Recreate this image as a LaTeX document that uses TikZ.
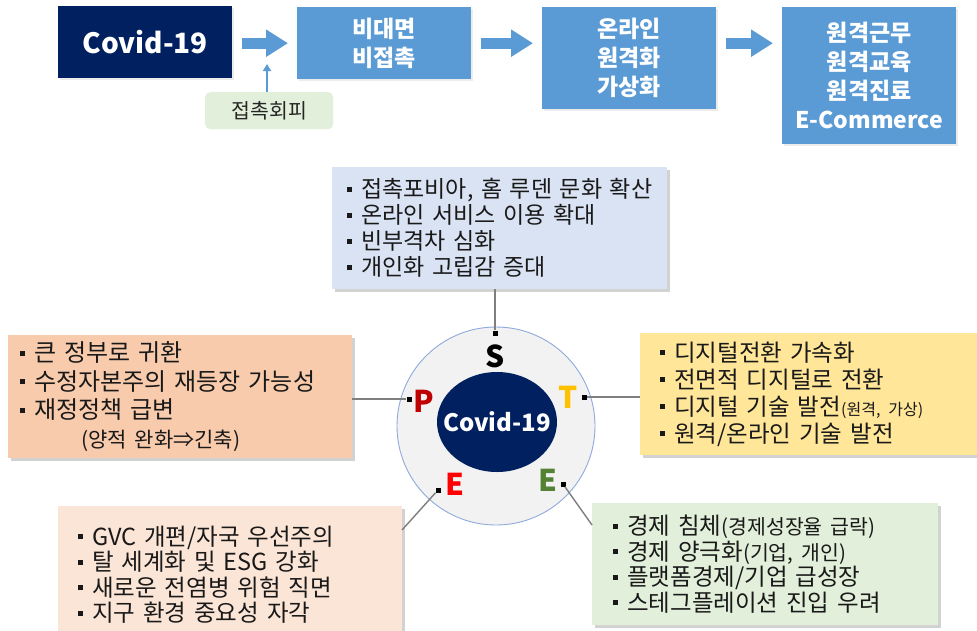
\documentclass[tikz,border=0pt]{standalone}
\usepackage{fontspec}
\setmainfont{Noto Sans CJK KR}
\usetikzlibrary{arrows.meta,shapes.geometric,shadows,calc}
\definecolor{navy}{HTML}{002060}
\definecolor{blueb}{HTML}{5B9BD5}
\definecolor{greenl}{HTML}{E2EFDA}
\definecolor{sblue}{HTML}{DAE3F3}
\definecolor{salmon}{HTML}{F8CBAD}
\definecolor{goldl}{HTML}{FFE699}
\definecolor{peach}{HTML}{FBE5D6}
\definecolor{circf}{HTML}{F2F2F2}
\definecolor{circb}{HTML}{8FAADC}
\definecolor{lgray}{HTML}{7F7F7F}
\definecolor{pred}{HTML}{C00000}
\definecolor{tgold}{HTML}{FFC000}
\definecolor{ered}{HTML}{FF0000}
\definecolor{egreen}{HTML}{548235}
\newcommand{\bul}{\rule[0.25em]{5pt}{5pt}\hspace{9pt}}
\newcommand{\smtxt}[2]{{\fontsize{#1}{#1}\selectfont #2}}
\begin{document}
\begin{tikzpicture}[x=1pt,y=-1pt,
  topbox/.style={anchor=north west, fill=blueb, text=white, align=center, inner sep=0pt,
    font=\bfseries\fontsize{23}{29}\selectfont,
    drop shadow={shadow xshift=1.5pt, shadow yshift=-1.5pt, opacity=0.15}},
  bigarrow/.style={draw=blueb, line width=11pt, -{Triangle[length=22pt,width=26pt]},
    shorten <=10pt, shorten >=9pt},
  thinarrow/.style={draw=blueb, line width=1.8pt, -{Triangle[length=7pt,width=8pt]}},
  cbox/.style={anchor=north west, align=left, inner ysep=0pt, text=black!90,
    drop shadow={shadow xshift=3pt, shadow yshift=-3pt, opacity=0.35}},
  sq/.style={fill=black, minimum size=5pt, inner sep=0pt},
  conn/.style={draw=lgray, line width=1.4pt},
  letter/.style={font=\bfseries\fontsize{30}{30}\selectfont, inner sep=0pt}
]
\useasboundingbox (0,0) rectangle (977,630);
\fill[white] (0,0) rectangle (977,630);

% top row
\node[topbox, fill=navy, minimum width=174pt, minimum height=72pt,
  font=\bfseries\fontsize{28}{30}\selectfont] (covid) at (58,6) {Covid-19};
\node[topbox, minimum width=174pt, minimum height=72pt] (b1) at (297,7) {비대면\\비접촉};
\node[topbox, minimum width=174pt, minimum height=102pt] (b2) at (542,7) {온라인\\원격화\\가상화};
\node[topbox, minimum width=174pt, minimum height=137pt] (b3) at (782,7) {원격근무\\원격교육\\원격진료\\E-Commerce};
\draw[bigarrow] (covid.east |- b1.east) -- (b1.west);
\draw[bigarrow] (b1.east) -- (b1.east -| b2.west);
\draw[bigarrow] (b1.east -| b2.east) -- (b1.east -| b3.west);

\node[anchor=north west, fill=greenl, rounded corners=5pt, minimum width=128pt, minimum height=37pt,
  inner sep=0pt, font=\fontsize{20.5}{21}\selectfont, text=black!85] (pill) at (205,92) {접촉회피};
\coordinate (tipc) at (267,64);
\draw[thinarrow] (tipc |- pill.north) -- (tipc);

% circle
\node[circle, draw=circb, line width=0.9pt, fill=circf, minimum size=198pt, inner sep=0pt] (circ) at (496,426) {};
\node[ellipse, fill=navy, minimum width=120pt, minimum height=100pt, inner sep=0pt,
  label={[text=white, font=\bfseries\fontsize{24}{24}\selectfont]center:Covid-19}] (core) at (497,422) {};

\node[letter, text=black] (lS) at (495,356) {S};
\node[letter, text=pred] (lP) at (424,401) {P};
\node[letter, text=tgold] (lT) at (568,397) {T};
\node[letter, text=ered] (lE1) at (455,484) {E};
\node[letter, text=egreen] (lE2) at (548,480) {E};

\node[sq] (qS) at (495,333) {};
\node[sq] (qP) at (409,399) {};
\node[sq] (qT) at (584,397) {};
\node[sq] (qE1) at (438,490) {};
\node[sq] (qE2) at (563,484) {};

% content boxes
\node[cbox, fill=sblue, text width=305pt, inner xsep=15pt, minimum height=122pt,
  font=\fontsize{23}{26}\selectfont] (sbox) at (332,167)
  {\bul 접촉포비아, 홈 루덴 문화 확산\\\bul 온라인 서비스 이용 확대\\\bul 빈부격차 심화\\\bul 개인화 고립감 증대};

\node[cbox, fill=salmon, text width=320pt, inner xsep=12pt, minimum height=123pt,
  font=\fontsize{24}{28.5}\selectfont] (pbox) at (8,335)
  {\bul 큰 정부로 귀환\\\bul 수정자본주의 재등장 가능성\\\bul 재정정책 급변\\\hspace*{61pt}\smtxt{21}{(양적 완화⇒긴축)}};

\node[cbox, fill=goldl, text width=300pt, inner xsep=20pt, minimum height=122pt,
  font=\fontsize{23.5}{27}\selectfont] (tbox) at (640,333)
  {\bul 디지털전환 가속화\\\bul 전면적 디지털로 전환\\\bul 디지털 기술 발전\smtxt{16}{(원격, 가상)}\\\bul 원격/온라인 기술 발전};

\node[cbox, fill=peach, text width=304pt, inner xsep=20pt, minimum height=137pt,
  font=\fontsize{23.5}{25.5}\selectfont] (ebox) at (58,506)
  {\bul GVC 개편/자국 우선주의\\\bul 탈 세계화 및 ESG 강화\\\bul 새로운 전염병 위험 직면\\\bul 지구 환경 중요성 자각};

\node[cbox, fill=greenl, text width=304pt, inner xsep=21pt, minimum height=122pt,
  font=\fontsize{23.5}{25.5}\selectfont] (gbox) at (592,503)
  {\bul 경제 침체\smtxt{20.5}{(경제성장율 급락)}\\\bul 경제 양극화\smtxt{20.5}{(기업, 개인)}\\\bul 플랫폼경제/기업 급성장\\\bul 스테그플레이션 진입 우려};

% connectors
\coordinate (eA) at (402,530);
\coordinate (gA) at (592,525);
\draw[conn] (sbox.south -| qS) -- (qS);
\draw[conn] (qP) -- (qP -| pbox.east);
\draw[conn] (qT) -- (qT -| tbox.west);
\draw[conn] (qE1) -- (eA);
\draw[conn] (qE2) -- (gA);
\end{tikzpicture}
\end{document}
